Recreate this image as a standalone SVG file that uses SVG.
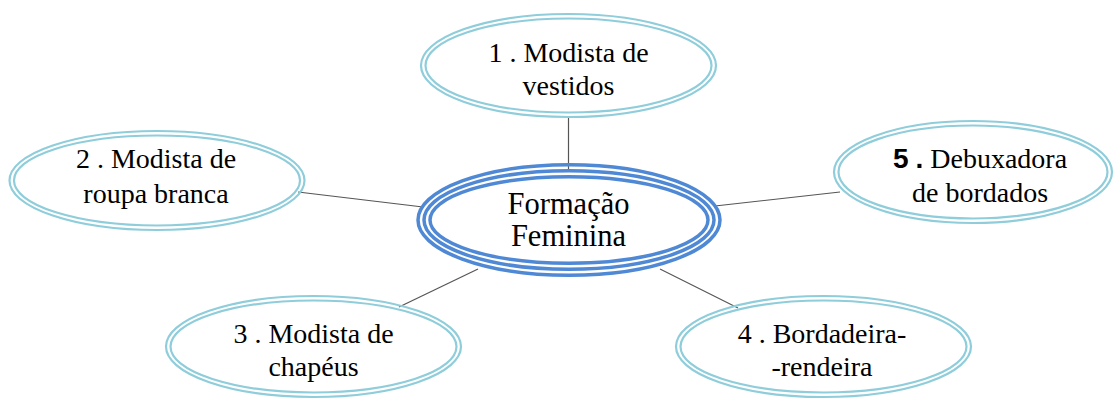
<svg xmlns="http://www.w3.org/2000/svg" width="1115" height="400" viewBox="0 0 1115 400">
<style>
.ring{fill:none;stroke:#8fcddb;stroke-width:2.2}
.core{fill:none;stroke:#4f88d4;stroke-width:3.5}
.lbl{font-family:"Liberation Serif","Times New Roman",serif;font-size:28px;fill:#000;text-anchor:middle}
.big{font-size:30.5px}
.conn{stroke:#555;stroke-width:1.2}
</style>
<rect width="1115" height="400" fill="#fff"/>
<g id="connectors">
<line class="conn" x1="568.5" y1="118" x2="568.5" y2="172"/>
<line class="conn" x1="298" y1="192" x2="423" y2="207"/>
<line class="conn" x1="715" y1="206" x2="840" y2="192"/>
<line class="conn" x1="399" y1="307" x2="478" y2="269"/>
<line class="conn" x1="660" y1="269" x2="738" y2="308"/>
</g>
<g id="center">
<ellipse cx="569" cy="220" rx="151" ry="55.3" fill="#fff" class="core"/>
<ellipse cx="569" cy="220" rx="145" ry="49.3" class="core"/>
<ellipse cx="569" cy="220" rx="139" ry="43.3" class="core"/>
<text class="lbl big" x="568.5" y="214">Formação</text>
<text class="lbl big" x="568.5" y="246">Feminina</text>
</g>
<g id="node1">
<ellipse cx="568.5" cy="65.5" rx="147.5" ry="51.5" fill="#fff" class="ring"/>
<ellipse cx="568.5" cy="65.5" rx="143" ry="47" class="ring"/>
<text class="lbl" x="568.5" y="62">1 . Modista de</text>
<text class="lbl" x="568.5" y="94.5">vestidos</text>
</g>
<g id="node2">
<ellipse cx="157" cy="180.5" rx="147.5" ry="49.5" fill="#fff" class="ring"/>
<ellipse cx="157" cy="180.5" rx="143" ry="45" class="ring"/>
<text class="lbl" x="156" y="168.3">2 . Modista de</text>
<text class="lbl" x="156" y="202.7">roupa branca</text>
</g>
<g id="node3">
<ellipse cx="313.5" cy="346.5" rx="147.5" ry="50.5" fill="#fff" class="ring"/>
<ellipse cx="313.5" cy="346.5" rx="143" ry="46" class="ring"/>
<text class="lbl" x="313.5" y="343.3">3 . Modista de</text>
<text class="lbl" x="313.5" y="376">chapéus</text>
</g>
<g id="node4">
<ellipse cx="823.5" cy="346.5" rx="147.5" ry="50.5" fill="#fff" class="ring"/>
<ellipse cx="823.5" cy="346.5" rx="143" ry="46" class="ring"/>
<text class="lbl" x="822" y="343.3">4 . Bordadeira-</text>
<text class="lbl" x="822" y="376">-rendeira</text>
</g>
<g id="node5">
<ellipse cx="973" cy="172" rx="139" ry="51" fill="#fff" class="ring"/>
<ellipse cx="973" cy="172" rx="134.5" ry="46.5" class="ring"/>
<text class="lbl" x="980" y="168.3"><tspan font-family="Liberation Sans, Arial, sans-serif" font-weight="bold">5</tspan> <tspan font-family="Liberation Sans, Arial, sans-serif" font-weight="bold">.</tspan> Debuxadora</text>
<text class="lbl" x="980" y="201.7">de bordados</text>
</g>
</svg>
